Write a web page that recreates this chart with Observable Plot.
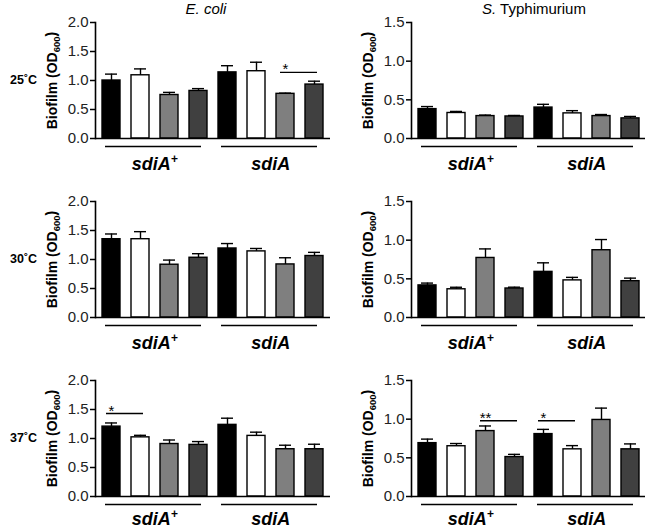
<!DOCTYPE html>
<html><head><meta charset="utf-8">
<script src="https://cdn.jsdelivr.net/npm/d3@7"></script>
<script src="https://cdn.jsdelivr.net/npm/@observablehq/plot@0.6"></script>
<style>
body{margin:0;background:#fff;}
#chart{position:relative;width:650px;height:530px;overflow:hidden;font-family:"Liberation Sans",Arial,sans-serif;color:#000;}
.panel{position:absolute;}
.title{position:absolute;font-size:15px;transform:translate(-50%,-50%);white-space:nowrap;}
.row{position:absolute;font-size:12.5px;font-weight:bold;transform:translateY(-50%);white-space:nowrap;}
</style></head><body><div id="chart"></div>
<script>
// ---- data ----
const groups = ["sdiA+", "sdiA"];
const conditions = ["c1", "c2", "c3", "c4"];
const condColors = ["#000000", "#ffffff", "#7f7f7f", "#404040"];
const temps = ["25˚C", "30˚C", "37˚C"];
const species = ["E. coli", "S. Typhimurium"];
const yLabel = "Biofilm (OD600)";
const ecoliTicks = [0, 0.5, 1, 1.5, 2];
const salmTicks = [0, 0.5, 1, 1.5];

const ecoli25 = [1.00, 1.09, 0.75, 0.82, 1.14, 1.16, 0.77, 0.93];
const ecoli25Err = [0.11, 0.11, 0.045, 0.04, 0.115, 0.155, 0.012, 0.058];
const salm25 = [0.38, 0.33, 0.29, 0.285, 0.40, 0.325, 0.29, 0.26];
const salm25Err = [0.033, 0.02, 0.013, 0.013, 0.042, 0.035, 0.02, 0.025];
const ecoli30 = [1.35, 1.35, 0.91, 1.03, 1.19, 1.14, 0.915, 1.06];
const ecoli30Err = [0.09, 0.13, 0.08, 0.07, 0.085, 0.05, 0.115, 0.063];
const salm30 = [0.415, 0.365, 0.77, 0.375, 0.59, 0.48, 0.87, 0.47];
const salm30Err = [0.03, 0.026, 0.117, 0.017, 0.117, 0.039, 0.138, 0.039];
const ecoli37 = [1.205, 1.02, 0.905, 0.89, 1.235, 1.045, 0.815, 0.815];
const ecoli37Err = [0.063, 0.035, 0.069, 0.057, 0.115, 0.064, 0.069, 0.086];
const salm37 = [0.69, 0.65, 0.846, 0.51, 0.807, 0.61, 0.99, 0.61];
const salm37Err = [0.052, 0.035, 0.066, 0.035, 0.061, 0.048, 0.153, 0.07];

// significance: [fromBar, toBar, y, label]
const ecoli25Sig = [[6, 7, 1.14, "*"]];
const salm25Sig = [];
const ecoli30Sig = [];
const salm30Sig = [];
const ecoli37Sig = [[0, 1, 1.43, "*"]];
const salm37Sig = [[2, 3, 0.98, "**"], [4, 5, 0.98, "*"]];

// ---- drawing ----
const chart = document.getElementById("chart");
const FONT = "'Liberation Sans', Arial, Helvetica, sans-serif";

function makePanel(values, errs, yMax, yTicks, sig, left, top, width, marginLeft, labelDy) {
  const rows = [];
  groups.forEach((g, gi) => conditions.forEach((c, ci) => {
    const k = gi * 4 + ci;
    rows.push({id: g + "|" + c, group: g, cond: c, value: values[k], err: errs[k]});
  }));
  const ids = rows.map(d => d.id);
  const groupRows = groups.map((g, gi) => ({group: g, first: ids[gi * 4], last: ids[gi * 4 + 3], mid: ids[gi * 4 + 2]}));
  const sigRows = sig.map(s => ({from: ids[s[0]], to: ids[s[1]], y: s[2], label: s[3]}));
  const sw = 1.4;
  const plot = Plot.plot({
    width, height: 175, marginTop: 22, marginBottom: 37, marginLeft, marginRight: 5,
    style: {fontFamily: FONT, background: "transparent", overflow: "visible", color: "#000"},
    x: {domain: ids, axis: null, paddingInner: 0.39, paddingOuter: 0.17},
    y: {domain: [0, yMax]},
    color: {domain: conditions, range: condColors},
    marks: [
      Plot.barY(rows, {x: "id", y: "value", fill: "cond", stroke: "#000", strokeWidth: sw}),
      Plot.ruleX(rows, {x: "id", y1: "value", y2: d => d.value + d.err, stroke: "#000", strokeWidth: sw}),
      Plot.tickY(rows, {x: "id", y: d => d.value + d.err, insetLeft: 3, insetRight: 3, stroke: "#000", strokeWidth: sw}),
      Plot.ruleY(sigRows, {x1: "from", x2: "to", y: "y", insetLeft: 4, insetRight: 6, stroke: "#000", strokeWidth: sw}),
      Plot.text(sigRows, {x: "from", y: "y", text: "label", lineAnchor: "bottom", fontSize: 15, dy: 2, fill: "#000"}),
      Plot.ruleY(groupRows, {x1: "first", x2: "last", y: 0, dy: 8, insetLeft: 3, insetRight: 6, stroke: "#000", strokeWidth: sw}),
      Plot.text(groupRows, {x: "mid", y: 0, text: "group", dx: -14.8, dy: labelDy, lineAnchor: "bottom", fontSize: 18, fontWeight: "bold", fontStyle: "italic", fill: "#000", className: "grp"}),
      Plot.axisY({ticks: yTicks, tickFormat: d3.format(".1f"), tickSize: 5, tickPadding: 2, fontSize: 15, fill: "#222", strokeWidth: 1.5, label: yLabel, labelAnchor: "center", labelOffset: 48}),
      Plot.frame({anchor: "left", stroke: "#000", strokeWidth: 1.6}),
      Plot.ruleY([0], {stroke: "#000", strokeWidth: 1.6})
    ]
  });
  // superscript "+" on group labels
  d3.select(plot).selectAll(".grp text").each(function() {
    const t = this.textContent;
    if (t.endsWith("+")) {
      const sel = d3.select(this);
      sel.text(null);
      sel.append("tspan").text(t.slice(0, -1));
      sel.append("tspan").attr("font-size", 12).attr("dy", "-0.55em").text("+");
    }
  });
  // subscript on axis label
  const lab = plot.querySelector('[aria-label="y-axis label"] text');
  if (lab) {
    const s = d3.select(lab);
    s.attr("font-weight", "bold").attr("font-size", 14).attr("fill", "#000");
    s.text(null);
    s.append("tspan").text("Biofilm (OD");
    s.append("tspan").attr("font-size", 9.5).attr("dy", "0.3em").text("600");
    s.append("tspan").attr("dy", "-0.3em").text(")");
  }
  const div = document.createElement("div");
  div.className = "panel";
  div.style.left = left + "px";
  div.style.top = top + "px";
  div.appendChild(plot);
  chart.appendChild(div);
}

const rowTops = [0, 179, 358];
const labelDys = [31, 31, 28];
const leftData = [[ecoli25, ecoli25Err, ecoli25Sig], [ecoli30, ecoli30Err, ecoli30Sig], [ecoli37, ecoli37Err, ecoli37Sig]];
const rightData = [[salm25, salm25Err, salm25Sig], [salm30, salm30Err, salm30Sig], [salm37, salm37Err, salm37Sig]];
rowTops.forEach((top, r) => {
  makePanel(leftData[r][0], leftData[r][1], 2, ecoliTicks, leftData[r][2], 0, top, 335, 95, labelDys[r]);
  makePanel(rightData[r][0], rightData[r][1], 1.5, salmTicks, rightData[r][2], 330, top, 320, 81, labelDys[r]);
  const rl = document.createElement("div");
  rl.className = "row";
  rl.style.left = "10px";
  rl.style.top = (top + 80) + "px";
  rl.textContent = temps[r];
  chart.appendChild(rl);
});

// titles
const t1 = document.createElement("div");
t1.className = "title"; t1.style.left = "206px"; t1.style.top = "8px";
t1.innerHTML = "<i>" + species[0] + "</i>";
chart.appendChild(t1);
const t2 = document.createElement("div");
t2.className = "title"; t2.style.left = "534px"; t2.style.top = "8px";
const sp = species[1].split(" ");
t2.innerHTML = "<i>" + sp[0] + "</i> " + sp.slice(1).join(" ");
chart.appendChild(t2);
</script>
</body></html>
